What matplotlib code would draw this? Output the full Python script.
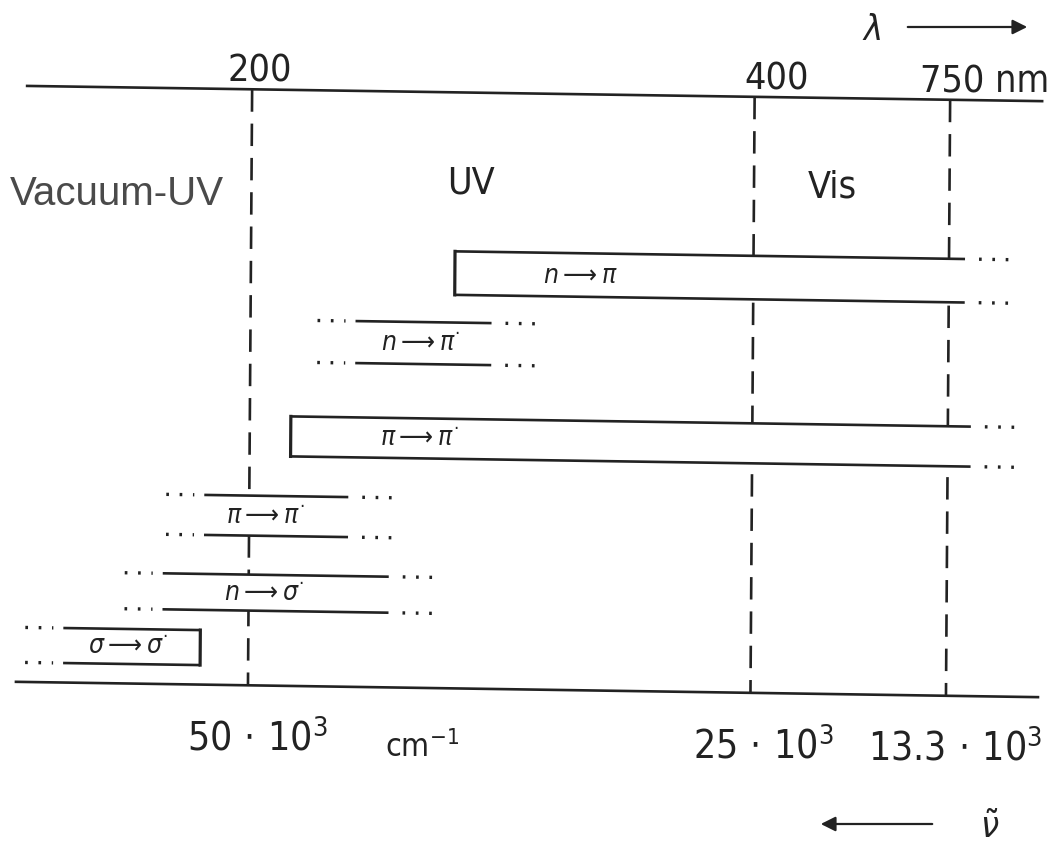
import numpy as np
import matplotlib
matplotlib.use('Agg')
import matplotlib.pyplot as plt

# scanned figure is slightly rotated; straight coordinates get skewed on drawing
KX, KY = 0.007, 0.015

def sk(x, y):
    x = np.asarray(x, dtype=float)
    y = np.asarray(y, dtype=float)
    return x - KX * (y - 400), y + KY * (x - 530)

# wavelength scale (boundary positions along the strip)
wl_labels = ['200', '400', '750 nm']
wn_labels = [r'$\mathregular{50\,\cdot\,10^3}$', r'$\mathregular{25\,\cdot\,10^3}$',
             r'$\mathregular{13.3\,\cdot\,10^3}$']
boundary_x = [250, 752.5, 948]
top_y, bottom_y = 94.5, 690.5

regions = ['Vacuum-UV', 'UV', 'Vis']

# transitions: start/end along the strip, band top/bottom
trans_labels = [r'$n \longrightarrow \pi$', r'$n \longrightarrow \pi^{\cdot}$',
                r'$\pi \longrightarrow \pi^{\cdot}$', r'$\pi \longrightarrow \pi^{\cdot}$',
                r'$n \longrightarrow \sigma^{\cdot}$', r'$\sigma \longrightarrow \sigma^{\cdot}$']
x_start = [454, 355, 291, 205, 164, 65]
x_end = [964, 491, 971, 349, 390, 202]
y_top = [253.5, 324.7, 421, 500.8, 579.8, 636]
y_bot = [297, 366.7, 461, 540.8, 615.8, 671]
label_x = [580, 420, 420, 266, 265, 130]
left_closed = [True, False, True, False, False, False]
right_closed = [False, False, False, False, False, True]

ink = '#222222'
plt.rcParams['font.family'] = ['DejaVu Sans']
plt.rcParams['font.stretch'] = 'condensed'

fig = plt.figure(figsize=(10.57, 8.45), dpi=100)
ax = fig.add_axes([0, 0, 1, 1])
ax.set_xlim(0, 1057)
ax.set_ylim(845, 0)
ax.axis('off')

# top and bottom scale lines
ax.plot(*sk([25, 1040], [top_y, top_y]), color=ink, lw=1.9, zorder=3)
ax.plot(*sk([18, 1040], [bottom_y, bottom_y]), color=ink, lw=1.9, zorder=3)

# dashed boundaries
for bx in boundary_x:
    ax.plot(*sk([bx, bx], [top_y, bottom_y]), color=ink, lw=1.9,
            linestyle=(0, (8.5, 4.5)), zorder=1)

# transition bands
for i in range(len(trans_labels)):
    x0, x1, t, b = x_start[i], x_end[i], y_top[i], y_bot[i]
    xs = np.array([x0, x1, x1, x0])
    ys = np.array([t, t, b, b])
    ax.fill(*sk(xs, ys), color='white', zorder=2, lw=0)
    for yy in (t, b):
        ax.plot(*sk([x0, x1], [yy, yy]), color=ink, lw=1.9, zorder=3, solid_capstyle='butt')
        if not left_closed[i]:
            ax.plot(*sk([x0 - 38, x0 - 10], [yy, yy]), color=ink, lw=2.4,
                    linestyle=(0, (0.8, 3.2)), zorder=3)
        if not right_closed[i]:
            ax.plot(*sk([x1 + 14, x1 + 44], [yy, yy]), color=ink, lw=2.4,
                    linestyle=(0, (0.8, 3.2)), zorder=3)
    if left_closed[i]:
        ax.plot(*sk([x0, x0], [t, b]), color=ink, lw=2.3, zorder=3)
    if right_closed[i]:
        ax.plot(*sk([x1, x1], [t, b]), color=ink, lw=2.3, zorder=3)
    lx, ly = sk(label_x[i], (t + b) / 2)
    ax.text(lx, ly, trans_labels[i], ha='center', va='center', fontsize=19,
            color=ink, math_fontfamily='dejavusans', zorder=4)

# wavelength labels
for bx, lab, off in zip(boundary_x, wl_labels, [8, 22, 34]):
    tx, ty = sk(bx + off, top_y - 9)
    ax.text(tx, ty, lab, ha='center', va='baseline', fontsize=27, color=ink)

# wavenumber labels
for bx, lab, off in zip(boundary_x, wn_labels, [10, 13, 10]):
    tx, ty = sk(bx + off, bottom_y + 64)
    ax.text(tx, ty, lab, ha='center', va='baseline', fontsize=28, color=ink)
ax.text(385, 757, r'$\mathregular{cm^{-1}}$', ha='left', va='baseline', fontsize=23, color=ink)

# region names
ax.text(10, 205, regions[0], ha='left', va='baseline', fontsize=29, color='#4a4a4a',
        family=['Liberation Sans', 'DejaVu Sans'], stretch='normal')
ax.text(447, 193, regions[1], ha='left', va='baseline', fontsize=27, color=ink)
ax.text(808, 197, regions[2], ha='left', va='baseline', fontsize=27, color=ink)

# direction arrows
ax.text(872, 40, r'$\lambda$', ha='center', va='baseline', fontsize=26, color=ink)
ax.annotate('', xy=(1030, 28), xytext=(905, 28),
            arrowprops=dict(arrowstyle='-|>', color=ink, lw=1.6, mutation_scale=22))
ax.text(990, 838, r'$\tilde{\nu}$', ha='center', va='baseline', fontsize=26, color=ink)
ax.annotate('', xy=(818, 825), xytext=(935, 825),
            arrowprops=dict(arrowstyle='-|>', color=ink, lw=1.6, mutation_scale=22))

fig.savefig('out.png', dpi=100, facecolor='white')
